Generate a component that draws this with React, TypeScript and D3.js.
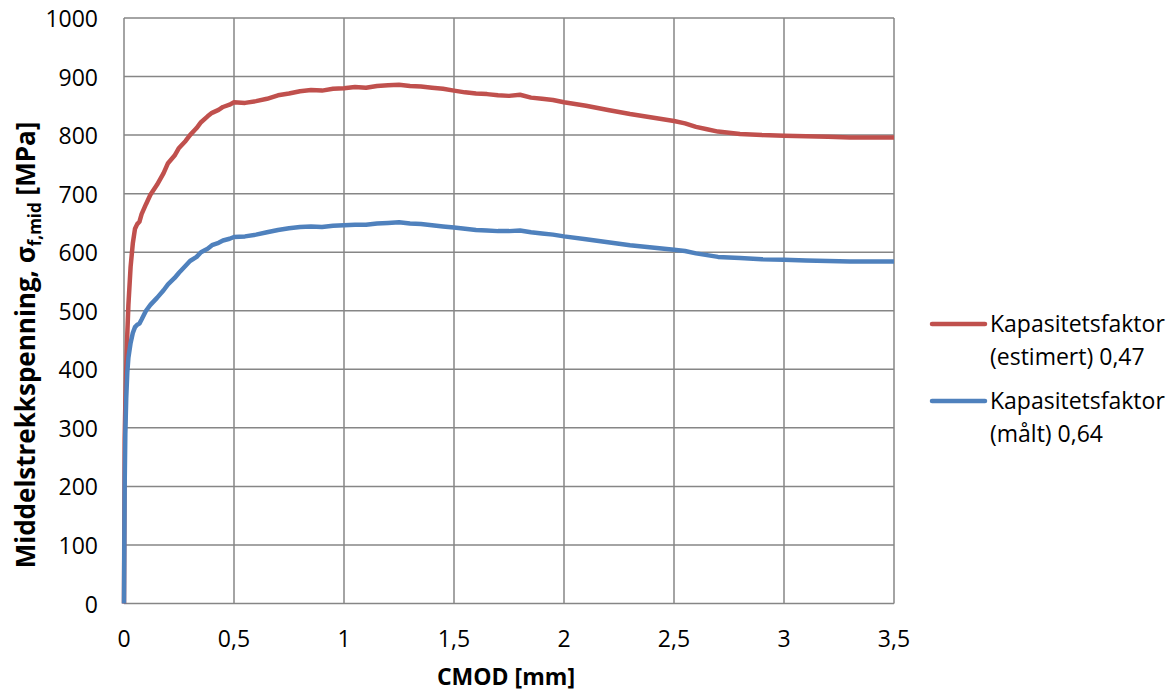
import React, { useEffect, useRef } from "react";
import * as d3 from "d3";

// CMOD [mm]
const cmod = [
  0, 0.003, 0.006, 0.01, 0.015, 0.02, 0.03, 0.04, 0.05, 0.06, 0.07, 0.08, 0.1, 0.12, 0.15, 0.18, 0.2, 0.23, 0.25,
  0.28, 0.3, 0.33, 0.35, 0.38, 0.4, 0.43, 0.45, 0.48, 0.5, 0.55, 0.6, 0.65, 0.7, 0.75, 0.8, 0.85, 0.9, 0.95, 1.0,
  1.05, 1.1, 1.15, 1.2, 1.25, 1.3, 1.35, 1.4, 1.45, 1.5, 1.55, 1.6, 1.65, 1.7, 1.75, 1.8, 1.85, 1.9, 1.95, 2.0,
  2.1, 2.2, 2.3, 2.4, 2.5, 2.55, 2.6, 2.65, 2.7, 2.8, 2.9, 3.0, 3.1, 3.2, 3.3, 3.4, 3.5,
];

// Kapasitetsfaktor (estimert) 0,47
const estimert = [
  0, 280, 340, 400, 460, 510, 575, 615, 640, 648, 652, 665, 682, 698, 715, 735, 752, 765, 778,
  790, 800, 812, 822, 832, 838, 843, 848, 852, 856, 855, 858, 862, 868, 871, 875, 877, 876, 879, 880,
  882, 881, 884, 885, 886, 884, 883, 881, 879, 876, 873, 871, 870, 868, 867, 869, 864, 862, 860, 856,
  850, 843, 836, 830, 824, 820, 814, 810, 806, 802, 800, 799, 798, 797, 796, 796, 796,
];

// Kapasitetsfaktor (målt) 0,64
const maalt = [
  0, 200, 290, 350, 395, 420, 445, 462, 472, 476, 478, 485, 500, 510, 522, 535, 545, 556, 565,
  577, 585, 592, 600, 606, 612, 616, 620, 623, 626, 627, 630, 634, 638, 641, 643, 644, 643, 645, 646,
  647, 647, 649, 650, 651, 649, 648, 646, 644, 642, 640, 638, 637, 636, 636, 637, 634, 632, 630, 627,
  622, 617, 612, 608, 604, 602, 598, 595, 592, 590, 588, 587, 586, 585, 584, 584, 584,
];

const xTicks = [0, 0.5, 1, 1.5, 2, 2.5, 3, 3.5];
const yTicks = [0, 100, 200, 300, 400, 500, 600, 700, 800, 900, 1000];

const seriesNames = [
  ["Kapasitetsfaktor", "(estimert) 0,47"],
  ["Kapasitetsfaktor", "(målt) 0,64"],
];
const seriesColors = ["#C0504D", "#4F81BD"];

const App = () => {
  const svgRef = useRef<SVGSVGElement>(null);

  useEffect(() => {
    const svg = d3.select(svgRef.current);
    svg.selectAll("*").remove();

    const font = "Open Sans, sans-serif";
    const fs = "23px";
    const left = 124,
      right = 894,
      top = 18,
      bottom = 603.5;

    const x = d3.scaleLinear().domain([0, 3.5]).range([left, right]);
    const y = d3.scaleLinear().domain([0, 1000]).range([bottom, top]);

    // gitter
    const grid = svg.append("g").attr("stroke", "#868686").attr("stroke-width", 1.5);
    xTicks.forEach((t) => {
      grid.append("line").attr("x1", x(t)).attr("x2", x(t)).attr("y1", top).attr("y2", bottom);
    });
    yTicks.forEach((t) => {
      grid.append("line").attr("x1", left).attr("x2", right).attr("y1", y(t)).attr("y2", y(t));
    });

    // akseetiketter
    svg
      .append("g")
      .selectAll("text")
      .data(yTicks)
      .enter()
      .append("text")
      .attr("x", 98)
      .attr("y", (d) => y(d) + 9)
      .attr("text-anchor", "end")
      .style("font-family", font)
      .style("font-size", fs)
      .text((d) => d);

    svg
      .append("g")
      .selectAll("text")
      .data(xTicks)
      .enter()
      .append("text")
      .attr("x", (d) => x(d))
      .attr("y", 647)
      .attr("text-anchor", "middle")
      .style("font-family", font)
      .style("font-size", fs)
      .text((d) => String(d).replace(".", ","));

    svg
      .append("text")
      .attr("x", 506)
      .attr("y", 685)
      .attr("text-anchor", "middle")
      .style("font-family", font)
      .style("font-size", "23px")
      .style("font-weight", "bold")
      .text("CMOD [mm]");

    const yt = svg
      .append("text")
      .attr("transform", `translate(35, 345) rotate(-90)`)
      .attr("text-anchor", "middle")
      .style("font-family", font)
      .style("font-size", "26px")
      .style("font-weight", "bold");
    yt.append("tspan").text("Middelstrekkspenning, σ");
    yt.append("tspan").attr("dy", 6).style("font-size", "17px").text("f,mid");
    yt.append("tspan").attr("dy", -6).text(" [MPa]");

    // kurver
    const line = d3
      .line<number>()
      .x((_, i) => x(cmod[i]))
      .y((d) => y(d));

    [estimert, maalt].forEach((vals, i) => {
      svg
        .append("path")
        .datum(vals)
        .attr("fill", "none")
        .attr("stroke", seriesColors[i])
        .attr("stroke-width", 4.5)
        .attr("stroke-linejoin", "round")
        .attr("d", line);
    });

    // tegnforklaring
    seriesNames.forEach((lines, i) => {
      const ly = 324 + i * 77;
      svg
        .append("line")
        .attr("x1", 932)
        .attr("x2", 985)
        .attr("y1", ly)
        .attr("y2", ly)
        .attr("stroke", seriesColors[i])
        .attr("stroke-width", 4.5)
        .attr("stroke-linecap", "round");
      lines.forEach((t, j) => {
        svg
          .append("text")
          .attr("x", 990)
          .attr("y", ly + 8 + j * 33)
          .style("font-family", font)
          .style("font-size", fs)
          .text(t);
      });
    });
  }, []);

  return (
    <svg
      ref={svgRef}
      width={1171}
      height={693}
      style={{ position: "absolute", left: 0, top: 0, display: "block" }}
    />
  );
};

export default App;
